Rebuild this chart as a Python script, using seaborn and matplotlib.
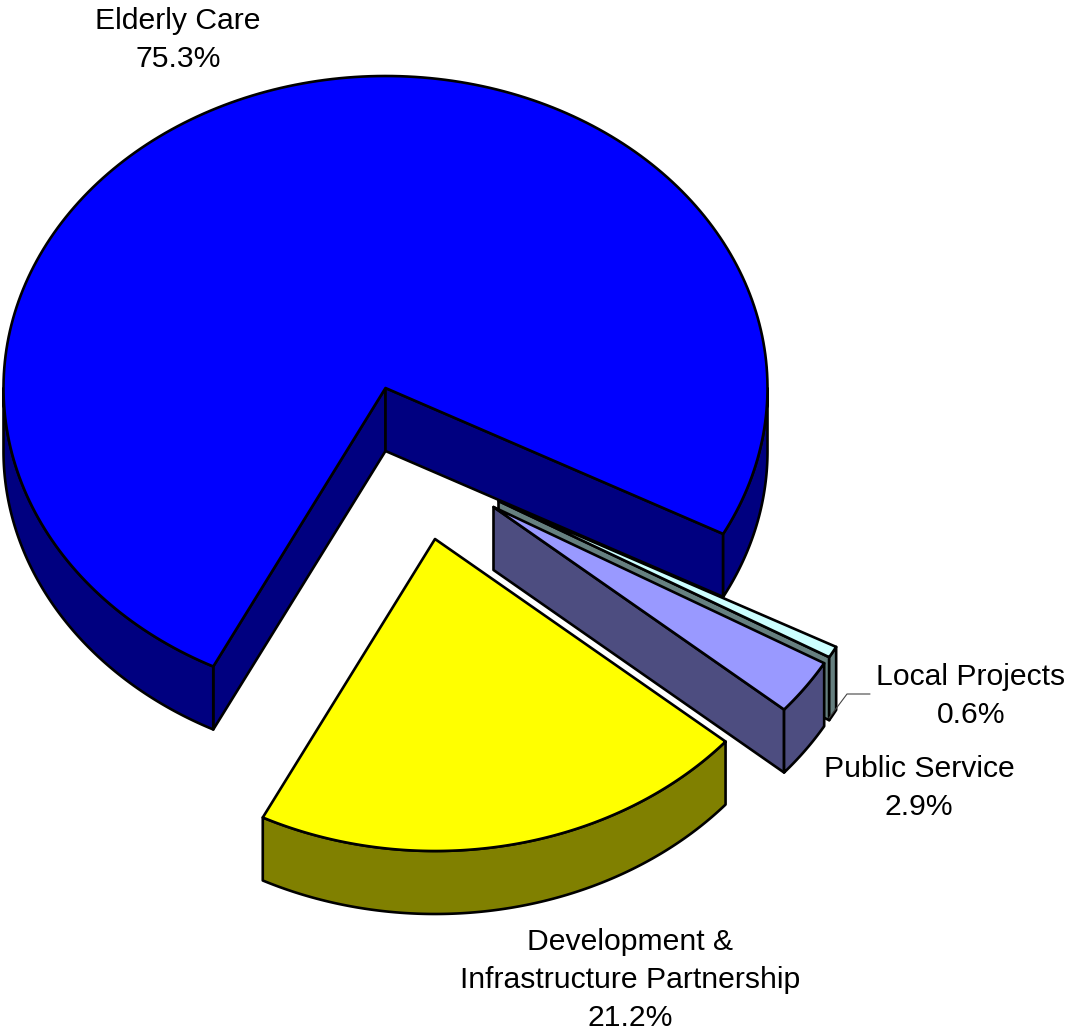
import numpy as np
import matplotlib
matplotlib.use("Agg")
import matplotlib.pyplot as plt
from matplotlib.patches import Polygon
import seaborn as sns

# Budget shares, in drawing order going clockwise from the start angle
categories = ["Elderly Care", "Local Projects", "Public Service", "Development &\nInfrastructure Partnership"]
shares = [75.3, 0.6, 2.9, 21.2]
top_colors = ["#0000FF", "#CCFFFF", "#9999FF", "#FFFF00"]

# Pie geometry in pixel coordinates
CENTER = (385.5, 388.0)
RX, RY = 382.0, 312.0
DEPTH = 63.0
START_ANGLE = 116.8
EXPLODE = [(0, 0), (113, 113), (108, 119), (49.5, 151)]
LABEL_POS = [(178, 40), (971, 696), (919, 788), (630, 980)]
LEADER_X = [829, 847, 870]
LEADER_Y = [718, 694, 694]
EDGE_W = 1.9

sns.set_theme(style="white")
plt.rcParams["font.family"] = ["Liberation Sans", "DejaVu Sans"]

fig = plt.figure(figsize=(10.68, 10.32), dpi=100)
ax = fig.add_axes([0, 0, 1, 1])
ax.set_xlim(0, 1068)
ax.set_ylim(1032, 0)
ax.axis("off")

palette = sns.color_palette(top_colors)
side_palette = [tuple(0.5 * c for c in col) for col in palette]


def arc(cx, cy, a, b, n=240):
    t = np.radians(np.linspace(a, b, n))
    return np.column_stack([cx + RX * np.cos(t), cy + RY * np.sin(t)])


def add_poly(pts, color, z):
    ax.add_patch(Polygon(pts, closed=True, facecolor=color, edgecolor="black",
                         linewidth=EDGE_W, joinstyle="round", zorder=z))


def draw_wedge(a, b, offset, top, side, z):
    cx, cy = CENTER[0] + offset[0], CENTER[1] + offset[1]
    apex = np.array([cx, cy])
    down = np.array([0, DEPTH])

    # Cut faces that turn towards the viewer
    for ang, visible in ((a, np.cos(np.radians(a)) < 0), (b, np.cos(np.radians(b)) > 0)):
        if visible:
            rim = arc(cx, cy, ang, ang, 1)[0]
            add_poly([apex, rim, rim + down, apex + down], side, z)

    # Outer wall, only over the front half of the ellipse
    for lo, hi in ((0, 180), (360, 540)):
        s, e = max(a, lo), min(b, hi)
        if s < e:
            front = arc(cx, cy, s, e)
            add_poly(np.vstack([front, (front + down)[::-1]]), side, z)

    # Top face
    add_poly(np.vstack([apex, arc(cx, cy, a, b)]), top, z + 0.5)


angle = START_ANGLE
for i, share in enumerate(shares):
    sweep = share / sum(shares) * 360
    draw_wedge(angle, angle + sweep, EXPLODE[i], palette[i], side_palette[i], z=i + 1)
    angle += sweep

# Leader line for the narrowest slice
ax.plot(LEADER_X, LEADER_Y, color="#444444", linewidth=0.8, zorder=6)

for name, share, (x, y) in zip(categories, shares, LABEL_POS):
    ax.text(x, y, f"{name}\n{share:.1f}%", ha="center", va="center",
            fontsize=21.7, color="black", linespacing=1.45, zorder=7)

fig.savefig("out.png", dpi=100)
